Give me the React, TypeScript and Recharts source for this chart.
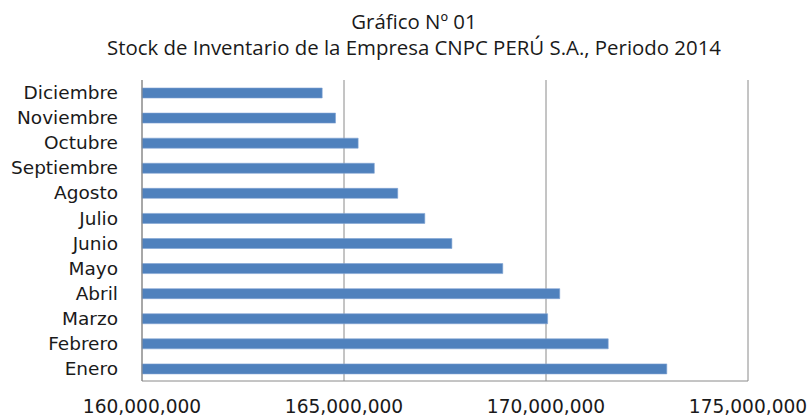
import React from "react";
import { BarChart, Bar, XAxis, YAxis, CartesianGrid } from "recharts";

const months = [
  "Enero",
  "Febrero",
  "Marzo",
  "Abril",
  "Mayo",
  "Junio",
  "Julio",
  "Agosto",
  "Septiembre",
  "Octubre",
  "Noviembre",
  "Diciembre",
];
const stock = [
  172990000, 171540000, 170040000, 170340000, 168930000, 167670000,
  167000000, 166330000, 165750000, 165350000, 164790000, 164460000,
];
const xTicks = [160000000, 165000000, 170000000, 175000000];

const data = months.map((mes, i) => ({ mes, stock: stock[i] }));

const fmt = (v: number) => v.toLocaleString("en-US");

const App: React.FC = () => {
  return (
    <div
      style={{
        position: "absolute",
        left: 0,
        top: 0,
        width: 811,
        height: 416,
        background: "#fff",
      }}
    >
      <div
        style={{
          position: "absolute",
          left: 0,
          top: 8,
          width: 828,
          textAlign: "center",
          fontFamily: "'Open Sans', sans-serif",
          fontSize: 20.4,
          lineHeight: "26px",
          color: "#1a1a1a",
          whiteSpace: "nowrap",
        }}
      >
        <div>Gráfico Nº 01</div>
        <div>Stock de Inventario de la Empresa CNPC PERÚ S.A., Periodo 2014</div>
      </div>
      <BarChart
        width={811}
        height={416}
        data={data}
        layout="vertical"
        margin={{ top: 80, right: 63, bottom: 0, left: 0 }}
        style={{ position: "absolute", left: 0, top: 0 }}
      >
        <CartesianGrid horizontal={false} stroke="#8a8a8a" />
        <XAxis
          type="number"
          domain={[160000000, 175000000]}
          ticks={xTicks}
          tickFormatter={fmt}
          height={35}
          tickLine={false}
          tickSize={0}
          tickMargin={19}
          stroke="#8a8a8a"
          tick={{ fill: "#1a1a1a", fontSize: 18.6, fontFamily: "DejaVu Sans" }}
        />
        <YAxis
          type="category"
          dataKey="mes"
          reversed
          width={142}
          tickLine={false}
          tickSize={0}
          tickMargin={24}
          stroke="#8a8a8a"
          interval={0}
          tick={{ fill: "#1a1a1a", fontSize: 18.5, fontFamily: "DejaVu Sans" }}
        />
        <Bar
          dataKey="stock"
          fill="#4F81BD"
          stroke="#7FA3D3"
          strokeWidth={0.6}
          barSize={10}
          isAnimationActive={false}
        />
      </BarChart>
    </div>
  );
};

export default App;
